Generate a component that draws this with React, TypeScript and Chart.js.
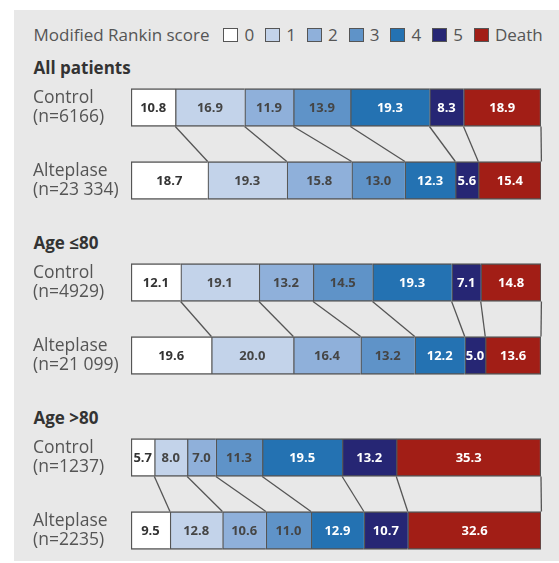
import React, { useEffect, useRef } from "react";
import { Chart, registerables } from "chart.js";

Chart.register(...registerables);

// ---- data ----
const scoreLabels = ["0", "1", "2", "3", "4", "5", "Death"];
const legendTitle = "Modified Rankin score";
const groupTitles = ["All patients", "Age \u226480", "Age >80"];
const controlN = ["6166", "4929", "1237"];
const alteplaseN = ["23 334", "21 099", "2235"];

const allControl = [10.8, 16.9, 11.9, 13.9, 19.3, 8.3, 18.9];
const allAlteplase = [18.7, 19.3, 15.8, 13.0, 12.3, 5.6, 15.4];
const le80Control = [12.1, 19.1, 13.2, 14.5, 19.3, 7.1, 14.8];
const le80Alteplase = [19.6, 20.0, 16.4, 13.2, 12.2, 5.0, 13.6];
const gt80Control = [5.7, 8.0, 7.0, 11.3, 19.5, 13.2, 35.3];
const gt80Alteplase = [9.5, 12.8, 10.6, 11.0, 12.9, 10.7, 32.6];

const groupControl = [allControl, le80Control, gt80Control];
const groupAlteplase = [allAlteplase, le80Alteplase, gt80Alteplase];

// ---- styles ----
const scoreColors = ["#ffffff", "#c3d3ea", "#8fb0da", "#5f93c8", "#2472b2", "#262674", "#a21e16"];
const valueTextColors = ["#333333", "#454545", "#454545", "#454545", "#ffffff", "#ffffff", "#ffffff"];
const borderCol = "#555555";
const FONT = '"Open Sans", "Noto Sans", sans-serif';

const linkPlugin = {
  id: "linksAndValues",
  afterDatasetsDraw(chart: any) {
    const ctx = chart.ctx;
    const n = chart.data.datasets.length;
    ctx.save();
    ctx.strokeStyle = borderCol;
    ctx.lineWidth = 1.3;
    for (let k = 0; k < n; k++) {
      const meta = chart.getDatasetMeta(k);
      const a = meta.data[0].getProps(["x", "y", "height"], true);
      const b = meta.data[1].getProps(["x", "y", "height"], true);
      ctx.beginPath();
      ctx.moveTo(a.x, a.y + a.height / 2);
      ctx.lineTo(b.x, b.y - b.height / 2);
      ctx.stroke();
    }
    ctx.font = `bold 13px ${FONT}`;
    ctx.textAlign = "center";
    ctx.textBaseline = "middle";
    for (let k = 0; k < n; k++) {
      const meta = chart.getDatasetMeta(k);
      meta.data.forEach((el: any, i: number) => {
        const p = el.getProps(["x", "y", "base"], true);
        const v = chart.data.datasets[k].data[i];
        ctx.fillStyle = valueTextColors[k];
        ctx.fillText(Number(v).toFixed(1), (p.x + p.base) / 2, p.y + 1);
      });
    }
    ctx.restore();
  },
};

function GroupChart({ g }: { g: number }) {
  const ref = useRef<HTMLCanvasElement | null>(null);
  useEffect(() => {
    if (!ref.current) return;
    const chart = new Chart(ref.current, {
      type: "bar",
      data: {
        labels: [
          ["Control", `(n=${controlN[g]})`],
          ["Alteplase", `(n=${alteplaseN[g]})`],
        ] as any,
        datasets: scoreLabels.map((s, k) => ({
          label: s,
          data: [groupControl[g][k], groupAlteplase[g][k]],
          backgroundColor: scoreColors[k],
          borderColor: borderCol,
          borderWidth: { top: 1.5, bottom: 1.5, left: 1.5, right: k === scoreLabels.length - 1 ? 1.5 : 0 },
          borderSkipped: false,
          barThickness: 38,
        })),
      },
      options: {
        indexAxis: "y",
        responsive: false,
        animation: false,
        layout: { padding: { left: 19, right: 18, top: 0, bottom: 0 } },
        scales: {
          x: { stacked: true, min: 0, max: 100, display: false },
          y: {
            stacked: true,
            grid: { display: false },
            border: { display: false },
            ticks: {
              crossAlign: "far",
              color: "#555555",
              padding: 0,
              font: { family: FONT, size: 17.5, lineHeight: 1.1 },
            },
            afterFit: (s: any) => {
              s.width = 98;
              s.paddingTop = 0;
              s.paddingBottom = 0;
            },
          },
        },
        plugins: { legend: { display: false }, tooltip: { enabled: false }, title: { display: false } },
      } as any,
      plugins: [linkPlugin],
    });
    return () => chart.destroy();
  }, [g]);
  return (
    <canvas
      ref={ref}
      width={545}
      height={146}
      style={{ position: "absolute", left: 0, top: 61 + g * 175, width: 545, height: 146 }}
    />
  );
}

export default function App() {
  const headerTops = [46, 221, 396];
  return (
    <div
      style={{
        position: "absolute",
        left: 14,
        top: 10,
        width: 545,
        height: 551,
        background: "#e8e8e8",
        fontFamily: FONT,
        overflow: "hidden",
      }}
    >
      <div
        style={{
          position: "absolute",
          left: 19.5,
          top: 13,
          height: 24,
          lineHeight: "24px",
          display: "flex",
          alignItems: "center",
          fontSize: 17,
          color: "#555555",
          whiteSpace: "nowrap",
        }}
      >
        <span style={{ marginRight: 14 }}>{legendTitle}</span>
        {scoreLabels.map((s, k) => (
          <span key={s} style={{ display: "flex", alignItems: "center", marginRight: 11 }}>
            <span
              style={{
                display: "inline-block",
                width: 13,
                height: 12,
                background: scoreColors[k],
                border: `1px solid ${borderCol}`,
                marginRight: 6,
              }}
            />
            <span>{s}</span>
          </span>
        ))}
      </div>
      {groupTitles.map((t, g) => (
        <div
          key={t}
          style={{
            position: "absolute",
            left: 19.5,
            top: headerTops[g],
            height: 24,
            lineHeight: "24px",
            fontSize: 17,
            fontWeight: 700,
            color: "#333333",
            whiteSpace: "nowrap",
          }}
        >
          {t}
        </div>
      ))}
      {[0, 1, 2].map((g) => (
        <GroupChart key={g} g={g} />
      ))}
    </div>
  );
}
